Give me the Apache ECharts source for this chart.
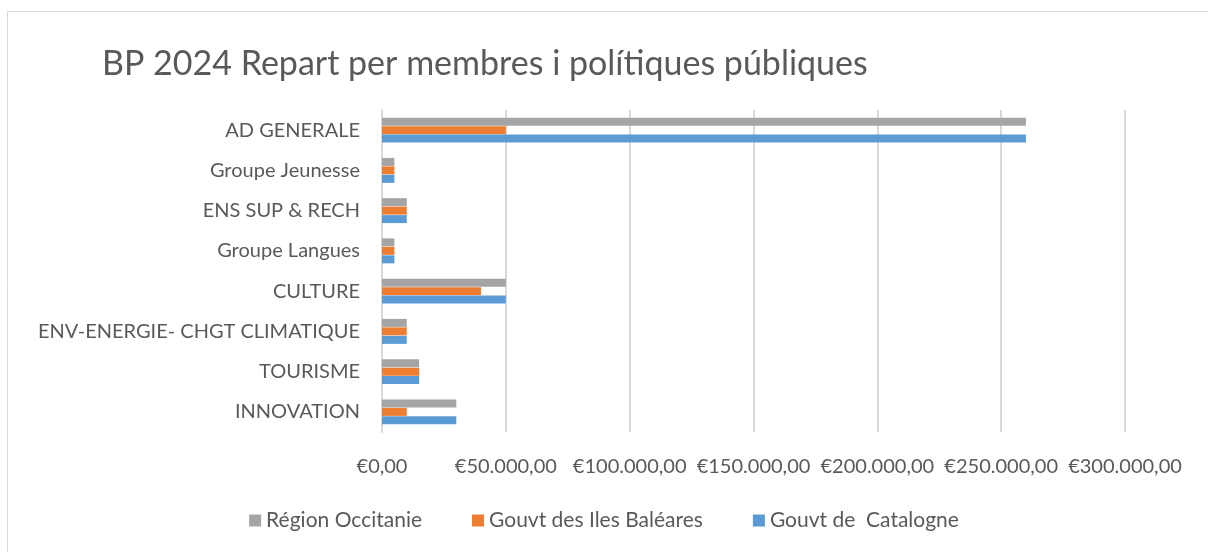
<!DOCTYPE html>
<html>
<head>
<meta charset="utf-8">
<script src="https://cdn.jsdelivr.net/npm/echarts@6/dist/echarts.min.js"></script>
<style>
  html, body { margin: 0; padding: 0; background: #fff; }
  #chart { width: 1208px; height: 552px; }
</style>
</head>
<body>
<div id="chart"></div>
<script>
const categories = [
  "AD GENERALE",
  "Groupe Jeunesse",
  "ENS SUP & RECH",
  "Groupe Langues",
  "CULTURE",
  "ENV-ENERGIE- CHGT CLIMATIQUE",
  "TOURISME",
  "INNOVATION",
]
const occitanie = [260000, 5000, 10000, 5000, 50000, 10000, 15000, 30000]
const baleares = [50000, 5000, 10000, 5000, 40000, 10000, 15000, 10000]
const catalogne = [260000, 5000, 10000, 5000, 50000, 10000, 15000, 30000]

const textColor = "#595959"
const font = "Lato"

const fmtEuro = (v) => "€" + v.toLocaleString("de-DE") + ",00"

const chart = echarts.init(document.getElementById("chart"), null, { renderer: "canvas" })

chart.setOption({
  animation: false,
  textStyle: { fontFamily: font },
  graphic: [
    {
      type: "rect",
      shape: { x: 7.5, y: 11.5, width: 1220, height: 560 },
      style: { fill: "none", stroke: "#D9D9D9", lineWidth: 1 },
      silent: true,
    },
  ],
  title: {
    text: "BP 2024 Repart per membres i polítiques públiques",
    left: 97,
    top: 42,
    textStyle: { fontFamily: font, fontSize: 34, fontWeight: "normal", color: textColor },
  },
  legend: {
    data: ["Région Occitanie", "Gouvt des Iles Baléares", "Gouvt de  Catalogne"],
    bottom: 16,
    left: "center",
    itemWidth: 12,
    itemHeight: 12,
    itemGap: 50,
    icon: "rect",
    textStyle: { fontFamily: font, fontSize: 21, color: textColor },
  },
  grid: { left: 382, right: 83, top: 110, bottom: 120, containLabel: false },
  xAxis: {
    type: "value",
    min: 0,
    max: 300000,
    interval: 50000,
    axisLine: { show: false },
    axisTick: { show: false },
    splitLine: { show: true, lineStyle: { color: "#D9D9D9", width: 2 } },
    axisLabel: {
      formatter: fmtEuro,
      fontFamily: font,
      fontSize: 20,
      color: textColor,
      margin: 25,
    },
  },
  yAxis: {
    type: "category",
    data: categories,
    inverse: true,
    axisLine: { show: true, lineStyle: { color: "#D9D9D9", width: 2 } },
    axisTick: { show: false },
    axisLabel: { fontFamily: font, fontSize: 20, color: textColor, margin: 22 },
  },
  series: [
    {
      name: "Région Occitanie",
      type: "bar",
      data: occitanie,
      barWidth: 8,
      barGap: "6%",
      itemStyle: { color: "#A5A5A5" },
    },
    {
      name: "Gouvt des Iles Baléares",
      type: "bar",
      data: baleares,
      barWidth: 8,
      barGap: "6%",
      itemStyle: { color: "#ED7D31" },
    },
    {
      name: "Gouvt de  Catalogne",
      type: "bar",
      data: catalogne,
      barWidth: 8,
      barGap: "6%",
      itemStyle: { color: "#5B9BD5" },
    },
  ],
})
</script>
</body>
</html>
